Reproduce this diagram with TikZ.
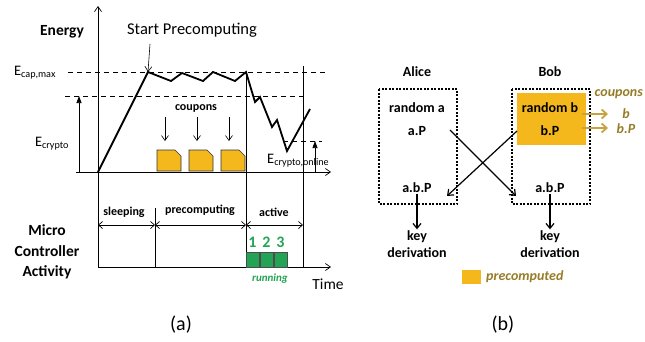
\documentclass[tikz,border=0pt]{standalone}
\usepackage{fontspec}
\setmainfont{Carlito}
\usetikzlibrary{arrows.meta,positioning}

\definecolor{couponYellow}{RGB}{245,184,28}
\definecolor{runGreen}{RGB}{34,164,84}
\definecolor{oliveText}{RGB}{150,124,40}
\definecolor{goldArrow}{RGB}{200,162,62}

\tikzset{
  axisline/.style={line width=0.7pt, -{Straight Barb[length=5pt,width=7pt]}},
  levelline/.style={line width=0.7pt, dash pattern=on 5pt off 4pt},
  thinarrow/.style={line width=0.6pt, -{Straight Barb[length=5pt,width=7pt]}},
  fillarrow/.style={line width=0.7pt, -{Triangle[length=7pt,width=5pt]}},
  spanarrow/.style={line width=0.7pt, {Straight Barb[length=4pt,width=7pt]}-{Straight Barb[length=4pt,width=7pt]}},
  energycurve/.style={line width=1.8pt, line join=miter},
  couponbox/.style={fill=couponYellow, draw=black!80, line width=0.7pt},
  runbox/.style={fill=runGreen, draw=black!70, line width=0.6pt},
  partybox/.style={draw, line width=1.2pt, dash pattern=on 2pt off 1.5pt},
  crossarrow/.style={line width=1.2pt, -{Straight Barb[length=5pt,width=8pt]}},
  goldarrow/.style={goldArrow, line width=1.8pt, -{Straight Barb[length=5pt,width=9pt]}},
  plain/.style={font=\fontsize{16.5}{19}\selectfont, inner sep=1pt},
  elabel/.style={font=\fontsize{14.5}{17}\selectfont, inner sep=1pt},
  bold/.style={font=\fontsize{12}{14}\selectfont\bfseries, inner sep=1pt},
  boldbig/.style={font=\fontsize{15.5}{20.5}\selectfont\bfseries, inner sep=1pt, align=center},
  msg/.style={font=\fontsize{14}{17}\selectfont\bfseries, inner sep=1pt, align=center},
  olive/.style={font=\fontsize{14}{16}\selectfont\bfseries\itshape, text=oliveText, inner sep=1pt}
}

\begin{document}
\begin{tikzpicture}[x=1pt, y=-1pt]
  \useasboundingbox (0,0) rectangle (645,341);

  % (a) energy over time
  \coordinate (origin) at (98,172);
  \coordinate (energyTop) at (98,6);
  \coordinate (timeStart) at (76,172);
  \coordinate (timeEnd) at (331,172);
  \coordinate (mcBottom) at (98,267);
  \coordinate (mcEnd) at (331,267);

  \draw [axisline] (mcBottom) -- (energyTop);
  \draw [axisline] (timeStart) -- (timeEnd);
  \draw [axisline] (mcBottom) -- (mcEnd);

  \node [boldbig] (energy) at (62,32) {Energy};
  \node [plain] (startPre) at (192,30) {Start Precomputing};
  \node [elabel] (eCapMax) at (35,73) {E\textsubscript{cap,max}};
  \node [elabel] (eCrypto) at (52,144) {E\textsubscript{crypto}};
  \node [elabel, anchor=west] (eOnline) at (266,161) {E\textsubscript{crypto,online}};

  % dashed levels
  \coordinate (capLeft) at (68,72);
  \coordinate (capRight) at (328,72);
  \coordinate (cryLeft) at (65,96);
  \coordinate (cryRight) at (303,96);
  \coordinate (onLeft) at (283,141);
  \coordinate (onRight) at (322,141);
  \draw [levelline] (capLeft) -- (capRight);
  \draw [levelline] (cryLeft) -- (cryRight);
  \draw [levelline] (onLeft) -- (onRight);

  \coordinate (cryBottom) at (79,172);
  \coordinate (cryTop) at (79,96);
  \draw [fillarrow] (cryBottom) -- (cryTop);
  \coordinate (onBottom) at (315,172);
  \coordinate (onTop) at (315,141);
  \draw [fillarrow] (onBottom) -- (onTop);

  % energy curve
  \coordinate (peak) at (148,72);
  \coordinate (lastPeak) at (246,72);
  \coordinate (low) at (287,151);
  \coordinate (startArrow) at (150,44);
  \draw [thinarrow] (startArrow) -- (peak);
  \draw [energycurve] (origin) -- (peak) -- (171,81) -- (182,73) -- (203,81)
        -- (213,72) -- (235,81) -- (lastPeak) -- (255,102) -- (260,97)
        -- (272,127) -- (277,120) -- (low) -- (310,109);

  % phase borders
  \coordinate (activeTop) at (246,72);
  \coordinate (activeBottom) at (246,267);
  \coordinate (endTop) at (303,66);
  \coordinate (endBottom) at (303,267);
  \coordinate (sleepTop) at (155,208);
  \coordinate (sleepBottom) at (155,267);
  \draw [line width=0.7pt] (activeTop) -- (activeBottom);
  \draw [line width=0.7pt] (endTop) -- (endBottom);
  \draw [line width=0.7pt] (sleepTop) -- (sleepBottom);

  % coupons
  \node [bold] (coupons) at (196,108) {coupons};
  \foreach \x [count=\i] in {157,189,221} {
    \draw [couponbox] (\x,171) -- (\x,150) -- (\x+18,150) -- (\x+24,156) -- (\x+24,171) -- cycle;
    \coordinate (cpTop\i) at (\x+8,117);
    \coordinate (cpEnd\i) at (\x+8,141);
    \draw [thinarrow] (cpTop\i) -- (cpEnd\i);
  }

  % micro controller activity
  \node [boldbig] (mcLabel) at (47,252) {Micro\\Controller\\Activity};
  \coordinate (spanA) at (98,225);
  \coordinate (spanB) at (155,225);
  \coordinate (spanC) at (246,225);
  \coordinate (spanD) at (303,225);
  \draw [spanarrow] (spanA) -- (spanB);
  \draw [spanarrow] (spanB) -- (spanC);
  \draw [spanarrow] (spanC) -- (spanD);
  \node [bold] (sleeping) at (124,212) {sleeping};
  \node [bold] (precomputing) at (200,210) {precomputing};
  \node [bold] (active) at (274,212) {active};

  \foreach \x/\n in {246/1,260/2,274/3} {
    \draw [runbox] (\x,252) rectangle (\x+13,267);
    \node [font=\fontsize{16}{18}\selectfont\bfseries, text=runGreen, inner sep=0pt] (num\n) at (\x+6.5,242) {\n};
  }
  \node [font=\fontsize{11}{13}\selectfont\bfseries\itshape, text=runGreen] (running) at (270,279) {running};
  \node [plain, font=\fontsize{15.5}{18}\selectfont] (time) at (328,284) {Time};
  \node [plain, font=\fontsize{20}{22}\selectfont] (capA) at (181,325) {(a)};

  % (b) key exchange
  \node [msg] (alice) at (417,72) {Alice};
  \node [msg] (bob) at (550,72) {Bob};
  \fill [couponYellow] (517,93) rectangle (586,145);
  \draw [partybox] (379,89) rectangle (457,204);
  \draw [partybox] (512,89) rectangle (590,204);

  \node [msg] (randA) at (417,108) {random a};
  \node [msg] (aP) at (417,131) {a.P};
  \node [msg] (randB) at (550,108) {random b};
  \node [msg] (bP) at (550,131) {b.P};
  \node [msg] (abpA) at (417,188) {a.b.P};
  \node [msg] (abpB) at (550,188) {a.b.P};
  \node [msg] (keyA) at (417,244) {key\\derivation};
  \node [msg] (keyB) at (550,244) {key\\derivation};

  \coordinate (sendA) at (450,130);
  \coordinate (recvB) at (516,196);
  \coordinate (sendB) at (517,131);
  \coordinate (recvA) at (447,196);
  \draw [crossarrow] (sendA) -- (recvB);
  \draw [crossarrow] (sendB) -- (recvA);
  \draw [crossarrow] (abpA.south) -- (keyA.north);
  \draw [crossarrow] (abpB.south) -- (keyB.north);

  % coupon output
  \node [olive, anchor=east] (couponsB) at (644,94) {coupons};
  \node [olive] (outB) at (626,114) {b};
  \node [olive] (outBP) at (626,129) {b.P};
  \coordinate (outStart1) at (582,114);
  \coordinate (outEnd1) at (608,114);
  \coordinate (outStart2) at (582,128);
  \coordinate (outEnd2) at (608,128);
  \draw [goldarrow] (outStart1) -- (outEnd1);
  \draw [goldarrow] (outStart2) -- (outEnd2);

  % legend
  \fill [couponYellow] (462,270) rectangle (481,284);
  \node [olive, anchor=west] (precomputed) at (485,277) {precomputed};
  \node [plain, font=\fontsize{20}{22}\selectfont] (capB) at (503,325) {(b)};
\end{tikzpicture}
\end{document}
